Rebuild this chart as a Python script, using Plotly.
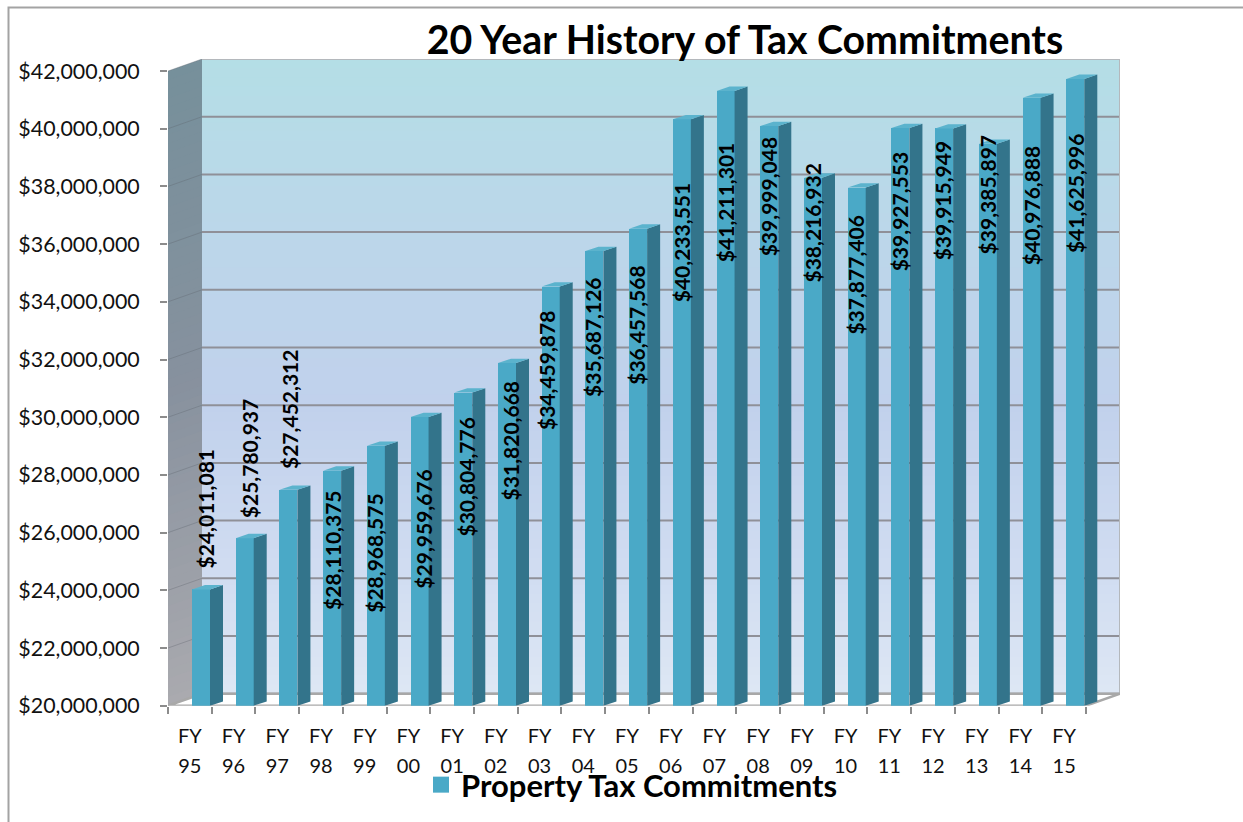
import plotly.graph_objects as go

# ---------- data ----------
YEARS = ["95","96","97","98","99","00","01","02","03","04","05","06","07","08","09","10","11","12","13","14","15"]
VALUES = [24011081,25780937,27452312,28110375,28968575,29959676,30804776,31820668,34459878,35687126,36457568,
          40233551,41211301,39999048,38216932,37877406,39927553,39915949,39385897,40976888,41625996]
Y_TICKS = list(range(20000000, 42000001, 2000000))
TITLE = "20 Year History of Tax Commitments"
SERIES = "Property Tax Commitments"

# ---------- label placement (page pixels of each rotated label's centre) ----------
LABEL_PX_X = [205,249,290,333,375,424,467,510,546,593,637,681,725,768,813,856,899,942,987,1031,1075]
LABEL_PX_Y = [506,456,408,548,552,527,476,440,369,337,324,243,202,197,223,274,212,200,195,205,194]

# ---------- geometry ----------
W, H = 1243, 822
FONT = "Lato"
LEFT, RIGHT = 168, 1120        # overall x extent, px
STEP = (1086 - 168) / 21       # px per category
PX_PER_UNIT = (705.7 - 71) / 22e6
FLOOR_Y, TOP_Y = 705.7, 59     # px
DEPTH_X = 34 / STEP
DEPTH_Y = 12 / PX_PER_UNIT
BASE = 20e6
X0 = -0.5
X1 = 20.5
XMAX = (RIGHT - LEFT) / STEP + X0
YMAX = BASE + (FLOOR_Y - TOP_Y) / PX_PER_UNIT

# bar axes: same scales, slightly shifted towards the back
BAR_CENTER0 = 201
BAR_FLOOR = 702.7
BAR_W = 18 / STEP
SIDE_X = 13 / STEP
SIDE_Y = 4.3 / PX_PER_UNIT
BX0 = (LEFT - BAR_CENTER0) / STEP
BX1 = (RIGHT - BAR_CENTER0) / STEP
BYMAX = BASE + (BAR_FLOOR - TOP_Y) / PX_PER_UNIT

C_FRONT, C_SIDE, C_TOP = "#4aa9c7", "#33748b", "#5bb3cd"
C_GRID = "#8f9098"
C_EDGE = "#a8a8a8"


def lerp_stops(stops, t):
    for (t0, c0), (t1, c1) in zip(stops, stops[1:]):
        if t <= t1:
            f = (t - t0) / (t1 - t0)
            rgb = [round(a + (b - a) * f) for a, b in zip(c0, c1)]
            return "rgb(%d,%d,%d)" % tuple(rgb)
    return "rgb(%d,%d,%d)" % tuple(stops[-1][1])


WALL_STOPS = [(0, (180, 222, 230)), (0.3, (188, 214, 234)), (0.55, (193, 209, 236)),
              (0.8, (208, 220, 241)), (1, (221, 231, 244))]
SIDE_STOPS = [(0, (118, 144, 155)), (0.5, (135, 145, 158)), (1, (170, 170, 175))]

shapes = []
N = 70
for k in range(N):
    # back wall bands
    y0 = BASE + DEPTH_Y + (YMAX - BASE - DEPTH_Y) * k / N
    y1 = BASE + DEPTH_Y + (YMAX - BASE - DEPTH_Y) * (k + 1.4) / N
    y1 = min(y1, YMAX)
    shapes.append(dict(type="rect", xref="x", yref="y", x0=X0 + DEPTH_X, x1=X1 + DEPTH_X, y0=y0, y1=y1,
                       fillcolor=lerp_stops(WALL_STOPS, 1 - (k + .5) / N), line_width=0, layer="below"))
    # left wall bands
    a0 = BASE + 22e6 * k / N
    a1 = min(BASE + 22e6 * (k + 1.4) / N, BASE + 22e6)
    path = "M %f %f L %f %f L %f %f L %f %f Z" % (X0, a0, X0 + DEPTH_X, a0 + DEPTH_Y, X0 + DEPTH_X, a1 + DEPTH_Y, X0, a1)
    shapes.append(dict(type="path", xref="x", yref="y", path=path,
                       fillcolor=lerp_stops(SIDE_STOPS, 1 - (k + .5) / N), line_width=0, layer="below"))
# outer border of the page
shapes.append(dict(type="rect", xref="paper", yref="paper", x0=8.5 / W, x1=1.02, y0=-0.02, y1=1 - 7.5 / H,
                   line=dict(color="#a3a3a3", width=2), layer="below"))

fig = go.Figure()

# back-wall gridlines and left-wall diagonals
gx, gy, dx, dy = [], [], [], []
for t in Y_TICKS:
    gx += [X0 + DEPTH_X, X1 + DEPTH_X, None]
    gy += [t + DEPTH_Y, t + DEPTH_Y, None]
    dx += [X0, X0 + DEPTH_X, None]
    dy += [t, t + DEPTH_Y, None]
fig.add_trace(go.Scatter(x=dx, y=dy, mode="lines", line=dict(color="rgba(95,100,110,0.35)", width=1),
                         hoverinfo="skip", showlegend=False))
fig.add_trace(go.Scatter(x=gx, y=gy, mode="lines", line=dict(color=C_GRID, width=2),
                         hoverinfo="skip", showlegend=False))
# wall right and top edge
fig.add_trace(go.Scatter(x=[X0 + DEPTH_X, X1 + DEPTH_X, X1 + DEPTH_X],
                         y=[YMAX, YMAX, BASE + DEPTH_Y], mode="lines",
                         line=dict(color="#b4b8bc", width=2), hoverinfo="skip", showlegend=False))
# floor
fig.add_trace(go.Scatter(x=[X0, X1, X1 + DEPTH_X, X0 + DEPTH_X, X0],
                         y=[BASE, BASE, BASE + DEPTH_Y, BASE + DEPTH_Y, BASE],
                         mode="lines", fill="toself", fillcolor="#ffffff",
                         line=dict(color=C_EDGE, width=2.5), hoverinfo="skip", showlegend=False))

# front faces of the bars
idx = list(range(len(VALUES)))
fig.add_trace(go.Bar(x=idx, y=[v - BASE for v in VALUES], base=BASE, width=BAR_W, marker=dict(color=C_FRONT, line_width=0),
                     xaxis="x2", yaxis="y2", showlegend=False, name=SERIES))
# side and top faces, derived from the values
sx, sy, tx, ty = [], [], [], []
for i, v in zip(idx, VALUES):
    r = i + BAR_W / 2
    l = i - BAR_W / 2
    sx += [r, r + SIDE_X, r + SIDE_X, r, r, None]
    sy += [BASE, BASE + SIDE_Y, v + SIDE_Y, v, BASE, None]
    tx += [l, l + SIDE_X, r + SIDE_X, r, l, None]
    ty += [v, v + SIDE_Y, v + SIDE_Y, v, v, None]
fig.add_trace(go.Scatter(x=sx, y=sy, mode="lines", fill="toself", fillcolor=C_SIDE, line=dict(width=0, color=C_SIDE),
                         xaxis="x2", yaxis="y2", hoverinfo="skip", showlegend=False))
fig.add_trace(go.Scatter(x=tx, y=ty, mode="lines", fill="toself", fillcolor=C_TOP, line=dict(width=0, color=C_TOP),
                         xaxis="x2", yaxis="y2", hoverinfo="skip", showlegend=False))

# legend entry
fig.add_trace(go.Scatter(x=[None], y=[None], mode="markers", name=SERIES,
                         marker=dict(symbol="square", size=16, color=C_FRONT), showlegend=True))

# rotated data labels
annotations = []
for i, v, px, py in zip(idx, VALUES, LABEL_PX_X, LABEL_PX_Y):
    top_px = BAR_FLOOR - (v - BASE) * PX_PER_UNIT
    center_px = BAR_CENTER0 + i * STEP
    annotations.append(dict(x=i, y=v, xref="x2", yref="y2", text="<b>$" + format(v, ",") + "</b>", textangle=-90, showarrow=False,
                            xanchor="center", yanchor="middle", xshift=px - center_px, yshift=top_px - py,
                            font=dict(family=FONT, size=21, color="#000000")))

fig.update_layout(
    width=W, height=H, autosize=False,
    margin=dict(l=0, r=0, t=0, b=0, pad=0, autoexpand=False),
    paper_bgcolor="#ffffff", plot_bgcolor="rgba(0,0,0,0)",
    font=dict(family=FONT, color="#111111"),
    title=dict(text="<b>%s</b>" % TITLE, x=745 / W, xanchor="center", y=1 - 40 / H, yanchor="middle",
               font=dict(family=FONT, size=39.3, color="#000000")),
    showlegend=True,
    legend=dict(x=421 / W, y=1 - 785 / H, xanchor="left", yanchor="middle", bgcolor="rgba(0,0,0,0)",
                font=dict(family=FONT, size=31, color="#000000", weight="bold"), itemwidth=30),
    xaxis=dict(domain=[LEFT / W, RIGHT / W], range=[X0, XMAX], tickmode="array",
               tickvals=idx, ticktext=["FY"] * len(idx), ticks="", showgrid=False, zeroline=False, showline=False,
               ticklabelstandoff=16, tickfont=dict(family=FONT, size=20, color="#111111"),
               minor=dict(tickmode="array", tickvals=[i - 0.5 for i in idx] + [20.5], ticks="outside", ticklen=7,
                          tickwidth=2, tickcolor="#8c8c8c", showgrid=False)),
    yaxis=dict(domain=[1 - FLOOR_Y / H, 1 - TOP_Y / H], range=[BASE, YMAX], tickmode="array", tickvals=Y_TICKS,
               ticktext=["$" + format(t, ",") for t in Y_TICKS], ticks="outside", ticklen=7, tickwidth=2,
               tickcolor="#8c8c8c", showgrid=False, zeroline=False, showline=False, ticklabelstandoff=16,
               tickfont=dict(family=FONT, size=21.4, color="#111111")),
    xaxis2=dict(domain=[LEFT / W, RIGHT / W], range=[BX0, BX1], overlaying="x", anchor="y2", tickmode="array",
                tickvals=[i - 11.15 / STEP for i in idx], ticktext=YEARS, ticks="", showgrid=False, zeroline=False,
                showline=False, ticklabelstandoff=46, tickfont=dict(family=FONT, size=20, color="#111111")),
    yaxis2=dict(domain=[1 - BAR_FLOOR / H, 1 - TOP_Y / H], range=[BASE, BYMAX], overlaying="y", anchor="x2",
                showticklabels=False, ticks="", showgrid=False, zeroline=False, showline=False),
    shapes=shapes, annotations=annotations, bargap=0,
)

fig.write_html("out.html", config=dict(displayModeBar=False), post_script="document.body.style.margin='0';")
